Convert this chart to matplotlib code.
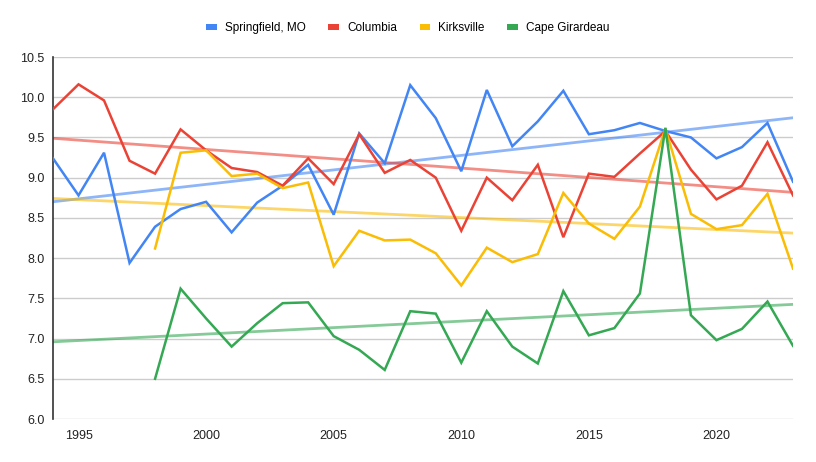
import numpy as np
import matplotlib
matplotlib.use("Agg")
import matplotlib.pyplot as plt
from matplotlib.patches import Patch

plt.rcParams['font.family'] = ['Liberation Sans', 'DejaVu Sans']

years = list(range(1994, 2024))
springfield = [9.24, 8.78, 9.31, 7.94, 8.39, 8.61, 8.70, 8.32, 8.69, 8.90,
               9.16, 8.54, 9.55, 9.18, 10.15, 9.74, 9.08, 10.09, 9.39, 9.70,
               10.08, 9.54, 9.59, 9.68, 9.58, 9.50, 9.24, 9.38, 9.68, 8.95]
columbia = [9.85, 10.16, 9.96, 9.21, 9.05, 9.60, 9.34, 9.12, 9.07, 8.90,
            9.24, 8.92, 9.54, 9.06, 9.22, 9.00, 8.34, 9.00, 8.72, 9.16,
            8.26, 9.05, 9.01, 9.30, 9.58, 9.10, 8.73, 8.90, 9.44, 8.78]
kirksville = [None, None, None, None, 8.12, 9.31, 9.34, 9.02, 9.05, 8.87,
              8.94, 7.90, 8.34, 8.22, 8.23, 8.06, 7.66, 8.13, 7.95, 8.05,
              8.81, 8.43, 8.24, 8.64, 9.61, 8.55, 8.36, 8.41, 8.80, 7.87]
cape_girardeau = [None, None, None, None, 6.50, 7.62, 7.25, 6.90, 7.19, 7.44,
                  7.45, 7.03, 6.86, 6.61, 7.34, 7.31, 6.70, 7.34, 6.90, 6.69,
                  7.59, 7.04, 7.13, 7.56, 9.62, 7.29, 6.98, 7.12, 7.46, 6.91]

series_names = ["Springfield, MO", "Columbia", "Kirksville", "Cape Girardeau"]
series_colors = ["#4285f4", "#ea4335", "#fbbc04", "#34a853"]
series_values = [springfield, columbia, kirksville, cape_girardeau]

y_ticks = [6.0, 6.5, 7.0, 7.5, 8.0, 8.5, 9.0, 9.5, 10.0, 10.5]
x_ticks = [1995, 2000, 2005, 2010, 2015, 2020]

fig = plt.figure(figsize=(8.16, 4.62), dpi=100)
ax = fig.add_axes([53/816, 1-419/462, 740/816, 362/462])

xs_all = np.array(years, dtype=float)
for name, col, vals in zip(series_names, series_colors, series_values):
    x = np.array([y for y, v in zip(years, vals) if v is not None], dtype=float)
    v = np.array([v for v in vals if v is not None], dtype=float)
    ax.plot(x, v, color=col, lw=1.8, zorder=3, solid_joinstyle='miter')
    k, b = np.polyfit(x, v, 1)
    ax.plot(xs_all, k*xs_all + b, color=col, lw=2.0, alpha=0.6, zorder=2)

ax.set_xlim(1994, 2023)
ax.set_ylim(6.0, 10.5)
ax.set_yticks(y_ticks)
ax.set_yticklabels([f"{t:.1f}" for t in y_ticks])
ax.set_xticks(x_ticks)
ax.set_xticklabels([str(t) for t in x_ticks])
ax.grid(axis='y', color='#cccccc', lw=1)
ax.set_axisbelow(True)
for s in ['top', 'right', 'bottom']:
    ax.spines[s].set_visible(False)
ax.spines['left'].set_color('#333333')
ax.spines['left'].set_linewidth(1.2)
ax.tick_params(axis='both', length=0, labelsize=9, colors='#222222')
ax.tick_params(axis='y', pad=6)
ax.tick_params(axis='x', pad=8)

handles = [Patch(facecolor=c, edgecolor='none') for c in series_colors]
fig.legend(handles, series_names, loc='center', bbox_to_anchor=(0.5, 1-28/462),
           ncol=4, frameon=False, fontsize=8.5, handlelength=0.9, handleheight=0.35,
           handletextpad=0.7, columnspacing=1.9)

fig.savefig("out.png", dpi=100)
